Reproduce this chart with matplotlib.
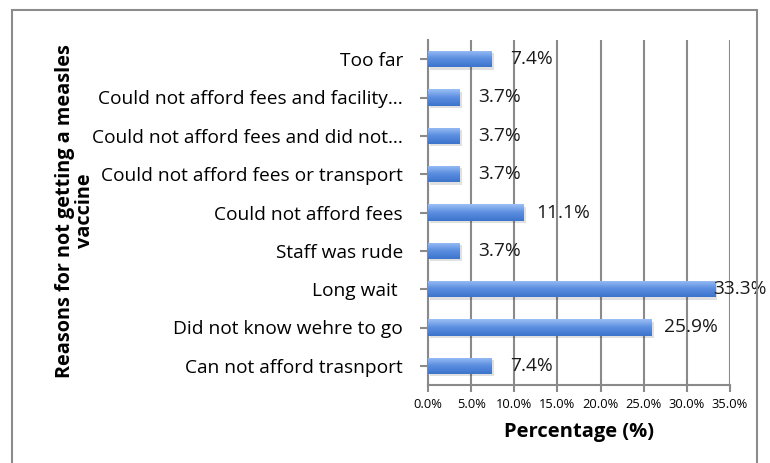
import matplotlib
matplotlib.use("Agg")
import matplotlib.pyplot as plt
import numpy as np
from matplotlib.patches import Rectangle
from matplotlib.colors import LinearSegmentedColormap

plt.rcParams['font.family'] = ['Open Sans', 'DejaVu Sans']

categories = [
    "Can not afford trasnport",
    "Did not know wehre to go",
    "Long wait ",
    "Staff was rude",
    "Could not afford fees",
    "Could not afford fees or transport",
    "Could not afford fees and did not\u2026",
    "Could not afford fees and facility\u2026",
    "Too far",
]
values = [7.4, 25.9, 33.3, 3.7, 11.1, 3.7, 3.7, 3.7, 7.4]
value_labels = ["7.4%", "25.9%", "33.3%", "3.7%", "11.1%", "3.7%", "3.7%", "3.7%", "7.4%"]
xticks = [0, 5, 10, 15, 20, 25, 30, 35]
xtick_labels = ["0.0%", "5.0%", "10.0%", "15.0%", "20.0%", "25.0%", "30.0%", "35.0%"]

W, H = 770, 463
fig = plt.figure(figsize=(W / 100, H / 100), dpi=100)
ax = fig.add_axes([428 / W, 1 - 385 / H, (730 - 428) / W, (385 - 40) / H])

# outer chart border
fig.patches.append(Rectangle((12 / W, -0.05), (757 - 12) / W, 1.05 - 10 / H,
                             transform=fig.transFigure, fill=False,
                             edgecolor='#8c8c8c', linewidth=1.5, zorder=0))

y = np.arange(len(categories))
bh = 0.42

# shadow
ax.barh(y - 0.06, values, height=bh, left=0.25, color='#000000', alpha=0.12,
        zorder=2, linewidth=0)
bars = ax.barh(y, values, height=bh, color='#5b8ee0', zorder=3, linewidth=0)

# gradient overlay
grad = np.linspace(0, 1, 100).reshape(-1, 1)
cmap = LinearSegmentedColormap.from_list('g', ['#3c74cc', '#5b8ee0', '#9cc0f5'])
for b in bars:
    x0, y0, w, h = b.get_x(), b.get_y(), b.get_width(), b.get_height()
    im = ax.imshow(grad, cmap=cmap, aspect='auto', extent=(x0, x0 + w, y0, y0 + h),
                   origin='lower', zorder=4)
    im.set_clip_path(b)

for yi, v, lab in zip(y, values, value_labels):
    ax.text(min(v + 4.6, 36.1), yi, lab, ha='center', va='center', fontsize=13.8,
            color='#1a1a1a', zorder=6, clip_on=False)

ax.set_xlim(0, 35)
ax.set_ylim(-0.5, len(categories) - 0.5)
ax.set_xticks(xticks)
ax.set_xticklabels(xtick_labels, fontsize=9.3)
ax.set_yticks(y)
ax.set_yticklabels(categories, fontsize=13.8)
ax.xaxis.grid(True, color='#8a8a8a', linewidth=1.5, zorder=1)
ax.set_axisbelow(True)
for s in ['top', 'right']:
    ax.spines[s].set_visible(False)
for s in ['left', 'bottom']:
    ax.spines[s].set_color('#8a8a8a')
    ax.spines[s].set_linewidth(1.5)
ax.tick_params(axis='x', length=5, width=1.5, color='#8a8a8a', pad=4)
ax.tick_params(axis='y', length=6, width=1.5, color='#8a8a8a', pad=12)

ax.set_xlabel("Percentage (%)", fontsize=14.5, fontweight='bold', labelpad=8)
fig.text(75 / W, 1 - 211 / H, "Reasons for not getting a measles\nvaccine",
         rotation=90, ha='center', va='center', fontsize=14.3, fontweight='bold',
         multialignment='center', linespacing=1.0)

fig.savefig("out.png", dpi=100)
